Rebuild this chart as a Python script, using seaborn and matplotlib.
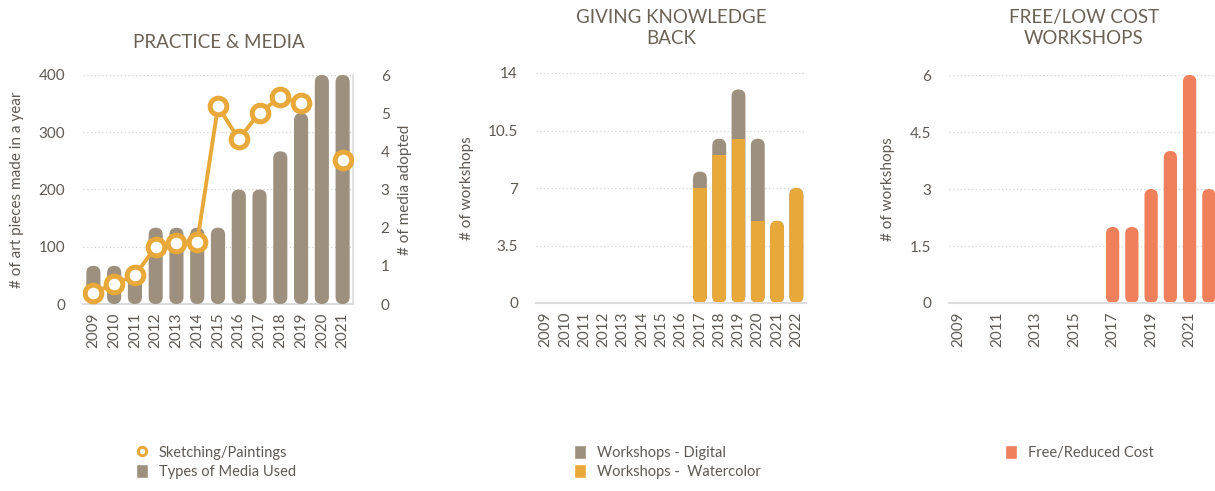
import numpy as np
import pandas as pd
import matplotlib
matplotlib.use("Agg")
import matplotlib.pyplot as plt
import seaborn as sns
from matplotlib.patches import FancyBboxPatch, Rectangle, Patch
from matplotlib.lines import Line2D

# ---------------- data ----------------
media_years = [2009, 2010, 2011, 2012, 2013, 2014, 2015, 2016, 2017, 2018, 2019, 2020, 2021]
art_pieces = [20, 35, 50, 100, 106, 109, 345, 288, 334, 361, 351, np.nan, 252]
media_types = [1, 1, 1, 2, 2, 2, 2, 3, 3, 4, 5, 6, 6]

ws_years = [2009, 2010, 2011, 2012, 2013, 2014, 2015, 2016, 2017, 2018, 2019, 2020, 2021, 2022]
ws_watercolor = [0, 0, 0, 0, 0, 0, 0, 0, 7, 9, 10, 5, 5, 7]
ws_digital = [0, 0, 0, 0, 0, 0, 0, 0, 1, 1, 3, 5, 0, 0]
free_cost = [0, 0, 0, 0, 0, 0, 0, 0, 2, 2, 3, 4, 6, 3]

titles = ["PRACTICE & MEDIA", "GIVING KNOWLEDGE\nBACK", "FREE/LOW COST\nWORKSHOPS"]

# ---------------- style ----------------
GRAY = "#9e907e"
ORANGE = "#e8a83a"
CORAL = "#f0805c"
TITLE_C = "#6b6257"
TEXT_C = "#5e5953"
GRID_C = "#d4d4d4"
SPINE_C = "#dddddd"

sns.set_style("white")
plt.rcParams["font.family"] = ["Lato", "DejaVu Sans"]
plt.rcParams["text.color"] = TEXT_C
plt.rcParams["axes.labelcolor"] = TEXT_C
plt.rcParams["xtick.color"] = TEXT_C
plt.rcParams["ytick.color"] = TEXT_C

W_PX, H_PX = 1215, 491
fig = plt.figure(figsize=(W_PX / 100, H_PX / 100), dpi=100)


def px_axes(x0, x1, ytop, ybot):
    return fig.add_axes([x0 / W_PX, 1 - ybot / H_PX, (x1 - x0) / W_PX, (ybot - ytop) / H_PX])


def round_bars(ax, patches, flat_top=None):
    """Replace rectangles by capsule shaped bars (rounded ends)."""
    bb = ax.get_position()
    wpx = W_PX * bb.width
    hpx = H_PX * bb.height
    xa, xb = ax.get_xlim()
    ya, yb = ax.get_ylim()
    asp = (wpx / (xb - xa)) / (hpx / (yb - ya))
    for i, p in enumerate(patches):
        h = p.get_height()
        if not h or np.isnan(h):
            p.remove()
            continue
        x, y, w = p.get_x(), p.get_y(), p.get_width()
        r = w / 2
        extra = 0
        if flat_top is not None and flat_top[i]:
            extra = 2 * r * asp
        nb = FancyBboxPatch((x, y), w, h + extra,
                            boxstyle=f"round,pad=0,rounding_size={r}",
                            mutation_aspect=asp, fc=p.get_facecolor(),
                            ec="none", zorder=p.get_zorder())
        ax.add_patch(nb)
        if extra:
            clip = Rectangle((x, y), w, h, transform=ax.transData)
            nb.set_clip_path(clip)
        p.remove()


def style_axes(ax, ylim, ticks, labels):
    ax.set_ylim(*ylim)
    ax.set_yticks(ticks)
    ax.set_yticklabels(labels)
    ax.yaxis.grid(True, ls=(0, (1, 2)), color=GRID_C, lw=0.9)
    ax.xaxis.grid(False)
    for s in ["left", "right", "top"]:
        ax.spines[s].set_visible(False)
    ax.spines["bottom"].set_color(SPINE_C)
    ax.spines["bottom"].set_linewidth(1.5)
    ax.tick_params(axis="y", length=0, pad=13, labelsize=11)
    ax.tick_params(axis="x", length=0, pad=6, labelsize=11, rotation=90)
    ax.set_xlabel("")


# ---------------- chart 1: practice & media ----------------
df_media = pd.DataFrame({"year": media_years, "art": art_pieces, "media": media_types})
df_media["pos"] = np.arange(len(df_media))
df_media["seg"] = np.cumsum(df_media["art"].isna())

ax1 = px_axes(83, 353, 75, 304)
ax1b = ax1.twinx()
ax1c = ax1.twinx()

sns.barplot(data=df_media, x="year", y="media", color=GRAY, saturation=1,
            width=0.68, ax=ax1b)
style_axes(ax1, (0, 400), [0, 100, 200, 300, 400], ["0", "100", "200", "300", "400"])
ax1.set_xlim(-0.5, len(media_years) - 0.5)
ax1.set_ylabel("# of art pieces made in a year", fontsize=11)
ax1.yaxis.set_label_coords(-0.22, 0.5)

ax1b.set_ylim(0, 6)
ax1b.set_yticks(range(7))
ax1b.tick_params(axis="y", length=0, pad=20, labelsize=11)
for s in ["left", "top", "bottom"]:
    ax1b.spines[s].set_visible(False)
ax1b.spines["right"].set_color(SPINE_C)
ax1b.spines["right"].set_linewidth(1.2)
ax1b.set_ylabel("# of media adopted", fontsize=11)
ax1b.yaxis.set_label_coords(1.167, 0.5)
ax1b.set_xlabel("")
ax1b.grid(False)
round_bars(ax1b, list(ax1b.patches))

sns.lineplot(data=df_media, x="pos", y="art", units="seg", estimator=None,
             color=ORANGE, lw=2.8, marker="o", ms=12, mfc="white", mec=ORANGE,
             mew=3.6, ax=ax1c, legend=False)
ax1c.set_ylim(0, 400)
ax1c.set_yticks([])
ax1c.set_ylabel("")
ax1c.set_xlabel("")
ax1c.grid(False)
for s in ax1c.spines.values():
    s.set_visible(False)
ax1c.set_xlim(-0.5, len(media_years) - 0.5)

# category labels live on the base axes (shared x)
ax1.set_xticks(range(len(media_years)))
ax1.set_xticklabels([str(y) for y in media_years])
ax1.tick_params(axis="x", labelbottom=True, length=0, pad=6, labelsize=11, rotation=90)

# ---------------- chart 2: giving knowledge back ----------------
df_ws = pd.DataFrame({"year": ws_years, "watercolor": ws_watercolor, "digital": ws_digital})
df_ws["total"] = df_ws["watercolor"] + df_ws["digital"]

ax2 = px_axes(536, 806, 73, 303)
sns.barplot(data=df_ws, x="year", y="total", color=GRAY, saturation=1, width=0.72, ax=ax2)
n_gray = len(ax2.patches)
sns.barplot(data=df_ws, x="year", y="watercolor", color=ORANGE, saturation=1, width=0.72, ax=ax2)
style_axes(ax2, (0, 14), [0, 3.5, 7, 10.5, 14], ["0", "3.5", "7", "10.5", "14"])
ax2.set_ylabel("# of workshops", fontsize=11)
ax2.yaxis.set_label_coords(-0.23, 0.5)
patches = list(ax2.patches)
round_bars(ax2, patches[:n_gray])
round_bars(ax2, patches[n_gray:], flat_top=(df_ws["digital"] > 0).tolist())

# ---------------- chart 3: free / low cost ----------------
df_free = pd.DataFrame({"year": ws_years, "free": free_cost})
ax3 = px_axes(949, 1218.5, 75, 303)
sns.barplot(data=df_free, x="year", y="free", color=CORAL, saturation=1, width=0.69, ax=ax3)
style_axes(ax3, (0, 6), [0, 1.5, 3, 4.5, 6], ["0", "1.5", "3", "4.5", "6"])
ax3.set_xticks(range(0, len(ws_years), 2))
ax3.set_xticklabels([str(y) for y in ws_years[::2]], rotation=90)
ax3.set_ylabel("# of workshops", fontsize=11)
ax3.yaxis.set_label_coords(-0.20, 0.5)
round_bars(ax3, list(ax3.patches))

# ---------------- titles ----------------
TITLE_FONT = ["Lato", "DejaVu Sans"]
fig.text(219 / W_PX, 1 - 42 / H_PX, titles[0], ha="center", va="center",
         fontsize=13.5, color=TITLE_C, family=TITLE_FONT)
fig.text(671 / W_PX, 1 - 28 / H_PX, titles[1], ha="center", va="center",
         fontsize=13.5, color=TITLE_C, linespacing=1.35, family=TITLE_FONT)
fig.text(1084 / W_PX, 1 - 28 / H_PX, titles[2], ha="center", va="center",
         fontsize=13.5, color=TITLE_C, linespacing=1.35, family=TITLE_FONT)

# ---------------- legends ----------------
leg_kw = dict(loc="upper left", frameon=False, fontsize=10.5, handlelength=0.85,
              handleheight=1.1, handletextpad=0.7, labelspacing=0.3,
              borderaxespad=0, borderpad=0, labelcolor=TEXT_C)
fig.legend([Line2D([], [], ls="none", marker="o", ms=6, mfc="white", mec=ORANGE, mew=2.2),
            Patch(fc=GRAY)],
           ["Sketching/Paintings", "Types of Media Used"],
           bbox_to_anchor=(136 / W_PX, 1 - 445 / H_PX), **leg_kw)
fig.legend([Patch(fc=GRAY), Patch(fc=ORANGE)],
           ["Workshops - Digital", "Workshops -  Watercolor"],
           bbox_to_anchor=(574 / W_PX, 1 - 445 / H_PX), **leg_kw)
fig.legend([Patch(fc=CORAL)], ["Free/Reduced Cost"],
           bbox_to_anchor=(1005 / W_PX, 1 - 445 / H_PX), **leg_kw)

fig.savefig("out.png", dpi=100)
